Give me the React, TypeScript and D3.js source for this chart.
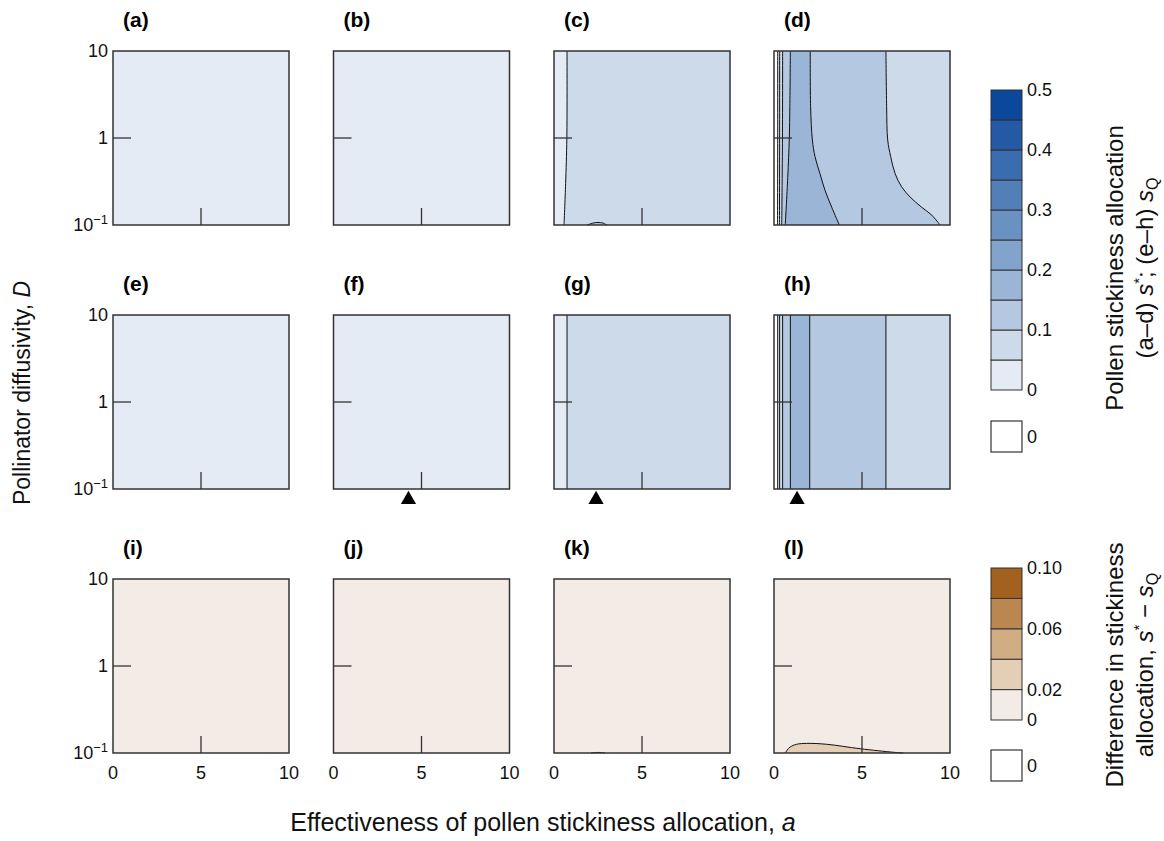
import { useEffect, useRef } from 'react';
import * as d3 from 'd3';

const panelLabels = ['(a)', '(b)', '(c)', '(d)', '(e)', '(f)', '(g)', '(h)', '(i)', '(j)', '(k)', '(l)'];
const xTicks = [0, 5, 10];
const yTicks = [0.1, 1, 10];

const blueBreaks = [0, 0.05, 0.1, 0.15, 0.2, 0.25, 0.3, 0.35, 0.4, 0.45, 0.5];
const blueColors = ['#e4ebf4', '#cddaea', '#b4c9e1', '#9ab5d6', '#82a3cc', '#6a91c2', '#527fb8', '#3a6daf', '#2359a5', '#0b479b'];
const blueTicks = [0, 0.1, 0.2, 0.3, 0.4, 0.5];
const blueTickLabels = ['0', '0.1', '0.2', '0.3', '0.4', '0.5'];

const brownBreaks = [0, 0.02, 0.04, 0.06, 0.08, 0.1];
const brownColors = ['#f3ece6', '#e4cfb6', '#d1ad83', '#bb8750', '#a2611f'];
const brownTicks = [0, 0.02, 0.06, 0.1];
const brownTickLabels = ['0', '0.02', '0.06', '0.10'];

// level of each band from left to right (-1 = exactly zero, white)
const bandLevels = [
	[0], [0], [0, 1], [-1, 0, 1, 2, 3, 2, 1],
	[0], [0], [0, 1], [-1, 0, 1, 2, 3, 2, 1],
	[0], [0], [0], [0],
];

// contour boundaries between bands, [a, D] from D = 10 down to D = 0.1
const boundC = [[[0.74, 10], [0.73, 1], [0.66, 0.3], [0.57, 0.1]]];
const boundD = [
	[[0.21, 10], [0.21, 1], [0.2, 0.1]],
	[[0.32, 10], [0.32, 1], [0.31, 0.1]],
	[[0.49, 10], [0.48, 1], [0.44, 0.1]],
	[[0.93, 10], [0.9, 2.3], [0.87, 1], [0.78, 0.35], [0.64, 0.1]],
	[[2.06, 10], [2.08, 2.3], [2.18, 0.95], [2.33, 0.61], [2.61, 0.39], [2.9, 0.25], [3.28, 0.16], [3.71, 0.1]],
	[[6.36, 10], [6.4, 2.3], [6.46, 0.95], [6.63, 0.61], [6.88, 0.39], [7.25, 0.275], [7.73, 0.21], [8.39, 0.16], [8.96, 0.13], [9.43, 0.1]],
];
const boundG = [[[0.74, 10], [0.74, 0.1]]];
const boundH = [
	[[0.21, 10], [0.21, 0.1]],
	[[0.32, 10], [0.32, 0.1]],
	[[0.49, 10], [0.49, 0.1]],
	[[0.93, 10], [0.93, 0.1]],
	[[2.03, 10], [2.03, 0.1]],
	[[6.36, 10], [6.36, 0.1]],
];
const boundaries = [[], [], boundC, boundD, [], [], boundG, boundH, [], [], [], []];

// small closed contours sitting on the bottom edge
const bumpC = [[1.9, 0.1], [2.2, 0.105], [2.5, 0.107], [2.8, 0.105], [3.0, 0.1]];
const bumpK = [[2.1, 0.1], [2.5, 0.1015], [2.9, 0.1]];
const bumpL = [[0.63, 0.1], [0.75, 0.108], [0.91, 0.117], [1.29, 0.126], [1.86, 0.129], [2.99, 0.126], [4.89, 0.112], [6.78, 0.102], [7.35, 0.1]];
const islands = [null, null, { level: 2, pts: bumpC }, null, null, null, null, null, null, null, { level: 1, pts: bumpK }, { level: 1, pts: bumpL }];

// optimal a marked below row 2
const optimumA = [null, null, null, null, null, 4.26, 2.39, 1.31, null, null, null, null];

const FONT = 'Liberation Sans, Arial, sans-serif';

const App = () => {
	const ref = useRef(null);
	useEffect(() => {
		const svg = d3.select(ref.current);
		svg.selectAll('*').remove();

		const pw = 176, ph = 174;
		const colX = [113, 333.5, 554, 774];
		const rowY = [51, 315, 579];

		panelLabels.forEach((lab, i) => {
			const r = Math.floor(i / 4), c = i % 4;
			const colors = r < 2 ? blueColors : brownColors;
			const fillOf = (l) => (l < 0 ? '#ffffff' : colors[l]);
			const x = d3.scaleLinear().domain([0, 10]).range([0, pw]);
			const y = d3.scaleLog().domain([0.1, 10]).range([ph, 0]);
			const g = svg.append('g').attr('transform', `translate(${colX[c]},${rowY[r]})`);
			const levels = bandLevels[i];
			const bounds = boundaries[i];

			g.append('rect').attr('width', pw).attr('height', ph).attr('fill', fillOf(levels[levels.length - 1]));

			const line = d3.line().x((d) => x(d[0])).y((d) => y(d[1])).curve(d3.curveCatmullRom.alpha(0.5));
			for (let k = bounds.length - 1; k >= 0; k--) {
				g.append('path')
					.attr('d', line(bounds[k]) + `L${x(0)},${y(0.1)}L${x(0)},${y(10)}Z`)
					.attr('fill', fillOf(levels[k]));
			}
			const isl = islands[i];
			if (isl) {
				g.append('path').attr('d', line(isl.pts) + 'Z').attr('fill', fillOf(isl.level));
			}
			bounds.forEach((b) => {
				g.append('path').attr('d', line(b)).attr('fill', 'none').attr('stroke', '#111').attr('stroke-width', 1);
			});
			if (isl) {
				g.append('path').attr('d', line(isl.pts)).attr('fill', 'none').attr('stroke', '#111').attr('stroke-width', 1);
			}

			// inward ticks
			g.append('line').attr('x1', x(5)).attr('x2', x(5)).attr('y1', ph).attr('y2', ph - 17).attr('stroke', '#333').attr('stroke-width', 1.3);
			g.append('line').attr('x1', 0).attr('x2', 18).attr('y1', y(1)).attr('y2', y(1)).attr('stroke', '#333').attr('stroke-width', 1.3);
			g.append('rect').attr('width', pw).attr('height', ph).attr('fill', 'none').attr('stroke', '#333').attr('stroke-width', 1.5);

			g.append('text').attr('x', 10).attr('y', -24).attr('font-family', FONT).attr('font-weight', 'bold').attr('font-size', 21).text(lab);

			if (c === 0) {
				yTicks.forEach((t) => {
					const tx = g.append('text').attr('x', -5).attr('y', y(t)).attr('dy', '0.35em').attr('text-anchor', 'end')
						.attr('font-family', FONT).attr('font-size', 18).attr('fill', '#111');
					if (t < 1) {
						tx.append('tspan').text('10');
						tx.append('tspan').attr('font-size', 13).attr('dy', -7).text('\u22121');
					} else tx.text(String(t));
				});
			}
			if (r === 2) {
				xTicks.forEach((t) => {
					g.append('text').attr('x', x(t)).attr('y', ph + 26).attr('text-anchor', 'middle')
						.attr('font-family', FONT).attr('font-size', 18).attr('fill', '#111').text(String(t));
				});
			}
			const opt = optimumA[i];
			if (opt !== null) {
				g.append('path').attr('d', d3.symbol(d3.symbolTriangle, 100)()).attr('transform', `translate(${x(opt)},${ph + 10.5})`).attr('fill', '#000');
			}
		});

		// colour bars
		const drawBar = (breaks, colors, ticks, tickLabels, top, bottom, boxTop) => {
			const bx = 991, bw = 31;
			const s = d3.scaleLinear().domain([breaks[0], breaks[breaks.length - 1]]).range([bottom, top]);
			const bg = svg.append('g');
			colors.forEach((col, k) => {
				bg.append('rect').attr('x', bx).attr('y', s(breaks[k + 1])).attr('width', bw).attr('height', s(breaks[k]) - s(breaks[k + 1]))
					.attr('fill', col).attr('stroke', '#333').attr('stroke-width', 1);
			});
			ticks.forEach((t, k) => {
				bg.append('text').attr('x', bx + bw + 5).attr('y', s(t)).attr('dy', '0.35em').attr('font-family', FONT).attr('font-size', 18).attr('fill', '#111').text(tickLabels[k]);
			});
			bg.append('rect').attr('x', bx).attr('y', boxTop).attr('width', bw).attr('height', 31).attr('fill', '#fff').attr('stroke', '#333').attr('stroke-width', 1.2);
			bg.append('text').attr('x', bx + bw + 5).attr('y', boxTop + 15.5).attr('dy', '0.35em').attr('font-family', FONT).attr('font-size', 18).attr('fill', '#111').text('0');
		};
		drawBar(blueBreaks, blueColors, blueTicks, blueTickLabels, 90, 390, 421);
		drawBar(brownBreaks, brownColors, brownTicks, brownTickLabels, 568, 720, 750);

		// axis titles
		const yt = svg.append('text').attr('transform', 'translate(30,393) rotate(-90)').attr('text-anchor', 'middle').attr('font-family', FONT).attr('font-size', 23).attr('fill', '#111');
		yt.append('tspan').text('Pollinator diffusivity, ');
		yt.append('tspan').attr('font-style', 'italic').text('D');

		const xt = svg.append('text').attr('x', 543).attr('y', 831).attr('text-anchor', 'middle').attr('font-family', FONT).attr('font-size', 25).attr('fill', '#111');
		xt.append('tspan').text('Effectiveness of pollen stickiness allocation, ');
		xt.append('tspan').attr('font-style', 'italic').text('a');

		const r1 = svg.append('g').attr('transform', 'translate(1123,268) rotate(-90)').attr('font-family', FONT).attr('font-size', 24).attr('fill', '#111');
		r1.append('text').attr('text-anchor', 'middle').text('Pollen stickiness allocation');
		const r1b = r1.append('text').attr('y', 30).attr('text-anchor', 'middle');
		r1b.append('tspan').text('(a\u2013d) ');
		r1b.append('tspan').attr('font-style', 'italic').text('s');
		r1b.append('tspan').attr('font-size', 15).attr('dy', -9).text('*');
		r1b.append('tspan').attr('dy', 9).text('; (e\u2013h) ');
		r1b.append('tspan').attr('font-style', 'italic').text('s');
		r1b.append('tspan').attr('font-size', 16).attr('dy', 5).text('Q');

		const r2 = svg.append('g').attr('transform', 'translate(1123,665) rotate(-90)').attr('font-family', FONT).attr('font-size', 24).attr('fill', '#111');
		r2.append('text').attr('text-anchor', 'middle').text('Difference in stickiness');
		const r2b = r2.append('text').attr('y', 30).attr('text-anchor', 'middle');
		r2b.append('tspan').text('allocation, ');
		r2b.append('tspan').attr('font-style', 'italic').text('s');
		r2b.append('tspan').attr('font-size', 15).attr('dy', -9).text('*');
		r2b.append('tspan').attr('dy', 9).text(' \u2212 ');
		r2b.append('tspan').attr('font-style', 'italic').text('s');
		r2b.append('tspan').attr('font-size', 16).attr('dy', 5).text('Q');
	}, []);
	return <svg ref={ref} width={1164} height={841} style={{ position: 'absolute', left: 0, top: 0, background: '#fff' }} />;
};

export default App;
